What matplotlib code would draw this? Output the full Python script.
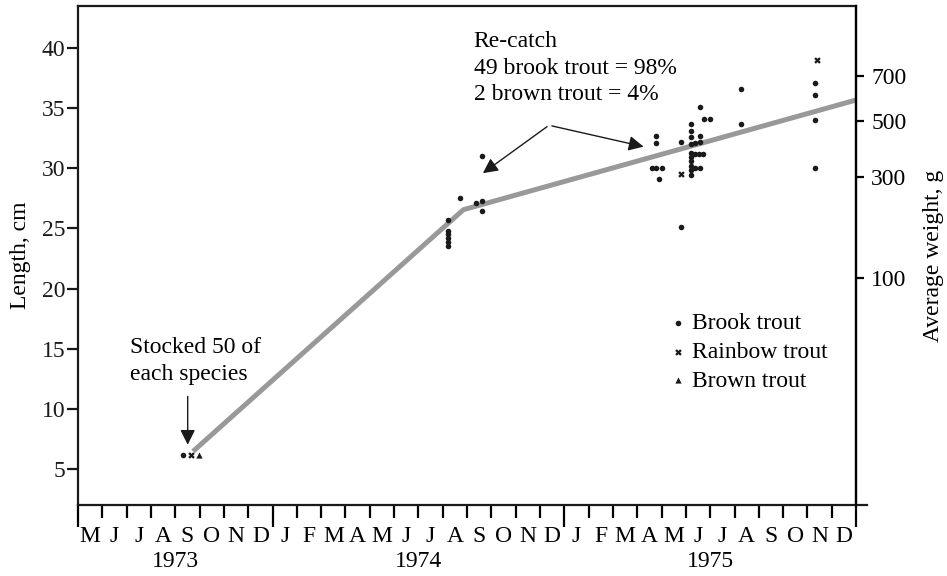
import matplotlib.pyplot as plt

plt.rcParams["font.family"] = ["Liberation Serif", "DejaVu Serif"]
plt.rcParams["font.size"] = 17

# ==============================
# Data (x = months since 1 May 1973)
# ==============================
month_labels = ["M", "J", "J", "A", "S", "O", "N", "D",
                "J", "F", "M", "A", "M", "J", "J", "A", "S", "O", "N", "D",
                "J", "F", "M", "A", "M", "J", "J", "A", "S", "O", "N", "D"]
year_labels = ["1973", "1974", "1975"]
year_bounds = [0, 8, 20, 32]

# growth line (length, cm)
growth_x = [4.73, 15.85, 32.0]
growth_len = [6.5, 26.55, 35.65]

brook_x = [4.32,
           15.2, 15.2, 15.2, 15.2, 15.2, 15.2, 15.72, 16.38, 16.6, 16.6, 16.6,
           23.79, 23.79, 23.6, 23.79, 24.0, 23.88, 24.8, 24.8,
           25.2, 25.2, 25.2, 25.2, 25.2, 25.2, 25.2, 25.2, 25.2, 25.2,
           25.39, 25.56, 25.56, 25.56, 25.73, 26.0,
           25.39, 25.52, 25.72, 25.39, 25.56,
           27.27, 27.27, 30.33, 30.33, 30.33, 30.33]
brook_len = [6.2,
             25.7, 24.8, 24.5, 24.2, 23.9, 23.5, 27.55, 27.1, 27.25, 26.4, 31.0,
             32.7, 32.05, 30.0, 30.0, 30.0, 29.1, 32.15, 25.1,
             33.65, 33.1, 32.55, 32.0, 31.25, 30.9, 30.55, 30.2, 29.85, 29.45,
             32.1, 32.65, 32.2, 35.05, 34.1, 34.1,
             31.15, 31.15, 31.15, 30.0, 30.0,
             36.6, 33.65, 37.05, 36.05, 34.0, 30.0]

rainbow_x = [4.65, 24.81, 30.41]
rainbow_len = [6.2, 29.5, 38.95]

brown_x = [4.98]
brown_len = [6.2]

# right axis: average weight ticks and the lengths they sit at
weight_ticks = [100, 300, 500, 700]
weight_tick_len = [20.9, 29.3, 33.9, 37.6]

# ==============================
# Plot
# ==============================
fig = plt.figure(figsize=(9.47, 5.76), dpi=100)
ax = fig.add_axes([0.0824, 0.1233, 0.8216, 0.8663])

ax.plot(growth_x, growth_len, color="#999999", linewidth=3.6, solid_capstyle="butt", zorder=2)

ax.scatter(brook_x, brook_len, s=16, marker="o", color="#1a1a1a", linewidths=0, zorder=3, label="Brook trout")
ax.scatter(rainbow_x, rainbow_len, s=22, marker="X", color="#1a1a1a", linewidths=0, zorder=3, label="Rainbow trout")
ax.scatter(brown_x, brown_len, s=20, marker="^", color="#1a1a1a", linewidths=0, zorder=3, label="Brown trout")

ax.set_xlim(0, 32)
ax.set_ylim(2.05, 43.45)

# y axis
ax.set_yticks([5, 10, 15, 20, 25, 30, 35, 40])
ax.tick_params(axis="y", direction="out", length=8, width=1.6, pad=1, colors="#1a1a1a")
ax.set_ylabel("Length, cm", labelpad=8)

# x axis: long ticks at year boundaries, short ticks for months
ax.set_xticks(year_bounds)
ax.set_xticklabels([])
ax.set_xticks([m for m in range(33) if m not in year_bounds], minor=True)
ax.tick_params(axis="x", which="major", direction="out", length=16, width=1.6)
ax.tick_params(axis="x", which="minor", direction="out", length=9.5, width=1.6)

xtrans = ax.get_xaxis_transform()
for i, lab in enumerate(month_labels):
    ax.text(i + 0.5, -0.064, lab, transform=xtrans, ha="center", va="center")
for i, lab in enumerate(year_labels):
    mid = (year_bounds[i] + year_bounds[i + 1]) / 2
    ax.text(mid, -0.113, lab, transform=xtrans, ha="center", va="center")

for side in ["left", "right", "top", "bottom"]:
    ax.spines[side].set_linewidth(1.6)
    ax.spines[side].set_color("#1a1a1a")
ax.spines["bottom"].set_bounds(0, 32.45)

# right axis (average weight)
ax2 = ax.twinx()
ax2.set_ylim(ax.get_ylim())
ax2.set_yticks(weight_tick_len)
ax2.set_yticklabels([str(w) for w in weight_ticks])
ax2.tick_params(axis="y", direction="out", length=6, width=1.6, pad=5)
ax2.set_ylabel("Average weight, g", labelpad=12)
for side in ["left", "top", "bottom"]:
    ax2.spines[side].set_visible(False)
ax2.spines["right"].set_linewidth(1.6)

# annotations
arrow = dict(arrowstyle="-|>,head_length=0.6,head_width=0.3", mutation_scale=15,
             color="#1a1a1a", lw=1.0, shrinkA=0, shrinkB=0)
ax.text(2.14, 14.0, "Stocked 50 of\neach species", ha="left", va="center", linespacing=1.35)
ax.annotate("", xy=(4.51, 7.05), xytext=(4.51, 11.06), arrowprops=arrow)

ax.text(16.27, 38.3, "Re-catch\n49 brook trout = 98%\n2 brown trout = 4%",
        ha="left", va="center", linespacing=1.36)
ax.annotate("", xy=(16.65, 29.58), xytext=(19.29, 33.44), arrowprops=arrow)
ax.annotate("", xy=(23.26, 31.78), xytext=(19.49, 33.5), arrowprops=arrow)

ax.legend(loc="upper left", bbox_to_anchor=(0.762, 0.385), frameon=False,
          handlelength=0.6, handletextpad=0.3, labelspacing=0.3, borderpad=0, borderaxespad=0)

fig.savefig("out.png", dpi=100)
